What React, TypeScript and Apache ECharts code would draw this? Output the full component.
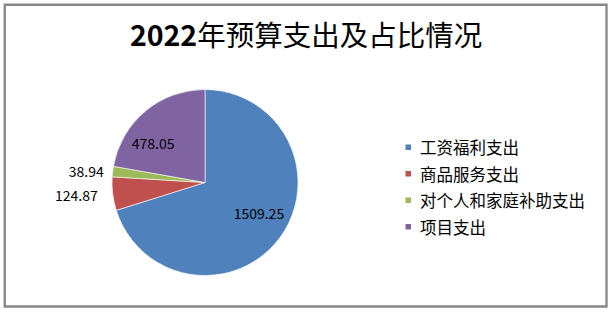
import React, { useEffect, useRef } from "react";
import * as echarts from "echarts";

const titleYear = "2022";
const titleRest = "年预算支出及占比情况";
const categories = ["工资福利支出", "商品服务支出", "对个人和家庭补助支出", "项目支出"];
const values = [1509.25, 124.87, 38.94, 478.05];
const colors = ["#4F81BD", "#C0504D", "#9BBB59", "#8064A2"];
const labelPositions = ["inside", "outside", "outside", "inside"];
const labelOffsets = [[14, 1], [0, 0], [6, 0], [-20, -2]];

const FONT = "'Noto Sans CJK SC', 'Noto Sans', sans-serif";

export default function App() {
  const ref = useRef<HTMLDivElement>(null);
  useEffect(() => {
    document.body.style.margin = "0";
    const chart = echarts.init(ref.current!, undefined, { renderer: "svg" });
    chart.setOption({
      animation: false,
      backgroundColor: "#ffffff",
      title: {
        text: "{a|" + titleYear + "}{b|" + titleRest + "}",
        left: "center",
        top: 14,
        textStyle: {
          rich: {
            a: { fontSize: 28.5, fontWeight: "bold", fontFamily: FONT, color: "#000" },
            b: { fontSize: 28.5, fontWeight: "normal", fontFamily: FONT, color: "#000" },
          },
        },
      },
      graphic: [
        {
          type: "rect",
          shape: { x: 4.75, y: 4.75, width: 601.75, height: 301.75 },
          style: { fill: "none", stroke: "#878787", lineWidth: 2.3 },
          silent: true,
        },
      ],
      legend: {
        orient: "vertical",
        left: 398.5,
        top: 134,
        icon: "rect",
        itemWidth: 7.5,
        itemHeight: 7.5,
        itemGap: 10,
        data: categories,
        textStyle: {
          fontSize: 16.5,
          fontFamily: FONT,
          color: "#000",
          padding: [0, 0, 0, 3],
        },
      },
      series: [
        {
          type: "pie",
          center: [205, 182.5],
          radius: [0, 93],
          startAngle: 90,
          clockwise: true,
          avoidLabelOverlap: false,
          itemStyle: { borderColor: "#ffffff", borderWidth: 0.6 },
          labelLine: { show: false, length: 6, length2: 4 },
          label: {
            fontSize: 14,
            fontFamily: FONT,
            color: "#000",
            formatter: (p: any) => p.value.toFixed(2),
          },
          data: categories.map((name, i) => ({
            name,
            value: values[i],
            itemStyle: { color: colors[i] },
            label: {
              position: labelPositions[i],
              offset: labelOffsets[i],
            },
          })),
        },
      ],
    });
    return () => chart.dispose();
  }, []);
  return (
    <div
      ref={ref}
      style={{ position: "absolute", left: 0, top: 0, width: 612, height: 313 }}
    />
  );
}
